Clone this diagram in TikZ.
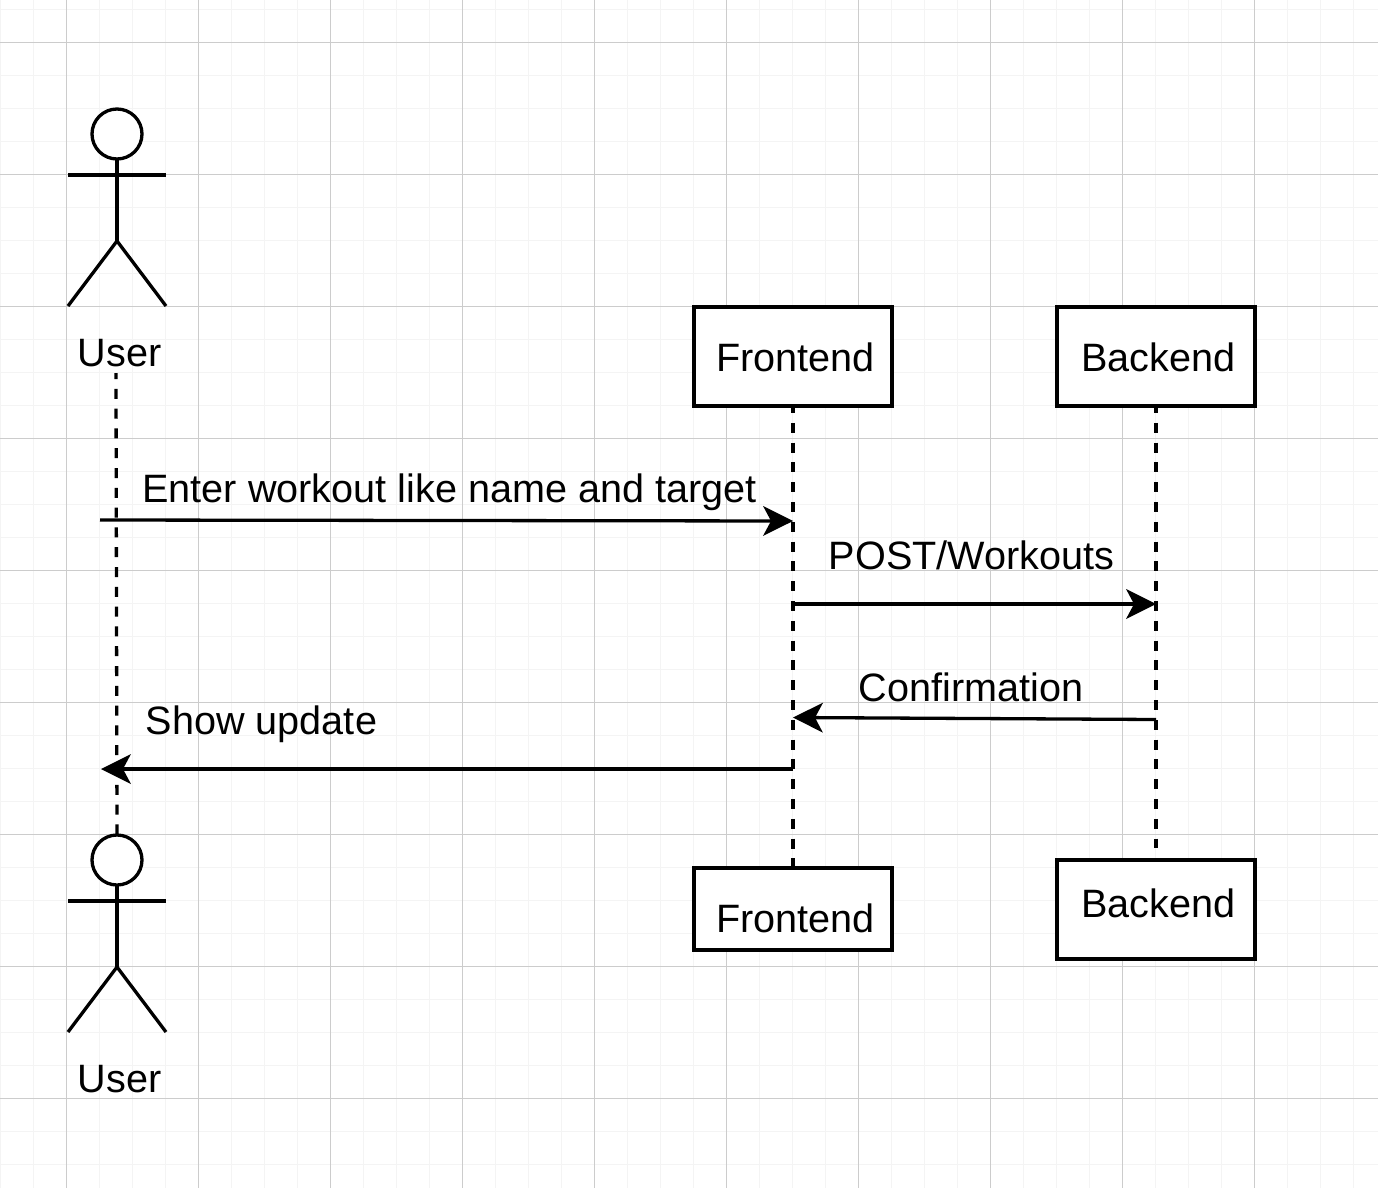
\documentclass[tikz,border=0pt]{standalone}
\usepackage{fontspec}
\setmainfont{Liberation Sans}
\usetikzlibrary{arrows.meta}
\definecolor{gridmajor}{gray}{0.80}
\definecolor{gridminor}{gray}{0.955}
\tikzset{
  ln/.style={draw=black,line width=3.3pt},
  lifeline/.style={ln,dash pattern=on 10pt off 9.8pt},
  msg/.style={ln,-{Stealth[length=30pt,width=30pt,inset=8pt,line width=0pt]}},
  box/.style={ln,fill=white,minimum width=198pt,inner sep=0pt,outer sep=0pt},
  txt/.style={inner sep=0pt,font=\fontsize{39.6}{47}\selectfont,text=black},
  head/.style={ln,fill=white,circle,minimum size=50pt,inner sep=0pt,outer sep=0pt}
}
\begin{document}
\begin{tikzpicture}[x=1pt,y=-1pt]
\useasboundingbox (0,0) rectangle (1378,1188);
\fill[white] (0,0) rectangle (1378,1188);
% minor grid
\foreach \i in {0,...,41} \draw[gridminor,line width=1.5pt] ({0.5+33*\i},0) -- ({0.5+33*\i},1188);
\foreach \j in {0,...,36} \draw[gridminor,line width=1.5pt] (0,{9.5+33*\j}) -- (1378,{9.5+33*\j});
% major grid
\foreach \i in {0,...,9} \draw[gridmajor,line width=1pt] ({66.5+132*\i},0) -- ({66.5+132*\i},1188);
\foreach \j in {0,...,8} \draw[gridmajor,line width=1pt] (0,{42.5+132*\j}) -- (1378,{42.5+132*\j});

\node[txt] (userTopLabel) at (119.5,353) {User};
\node[txt] (userBotLabel) at (119.5,1079) {User};
\node[head] (userTopHead) at (117,134) {};
\node[head] (userBotHead) at (117,860) {};
\node[box,minimum height=99pt] (feTop) at (793,356.5) {};
\node[box,minimum height=99pt] (beTop) at (1156,356.5) {};
\node[box,minimum height=82pt] (feBot) at (793,909) {};
\node[box,minimum height=99pt] (beBot) at (1156,909.5) {};
\node[txt] (feTopT) at (795.5,357.5) {Frontend};
\node[txt] (beTopT) at (1158.5,357.5) {Backend};
\node[txt] (feBotT) at (795.5,918.5) {Frontend};
\node[txt] (beBotT) at (1158.5,903) {Backend};

\coordinate (userLifeTop) at (116,373);
\coordinate (userLifeBot) at (117,835);
\coordinate (beLifeBot) at (1156,848);
\draw[lifeline,dash phase=4pt] (userLifeTop) -- (userLifeBot);
\draw[lifeline,dash phase=3pt] (feTop.south) -- (feBot.north);
\draw[lifeline,dash phase=3pt] (beTop.south) -- (beLifeBot);

% actors
\foreach \n/\y in {userTopHead/0,userBotHead/726}{
  \coordinate (neck) at (\n.south);
  \coordinate (hip) at (117,{241+\y});
  \coordinate (armL) at (68,{175+\y});
  \coordinate (armR) at (166,{175+\y});
  \coordinate (legL) at (68,{306+\y});
  \coordinate (legR) at (166,{306+\y});
  \draw[ln] (neck) -- (hip);
  \draw[ln] (armL) -- (armR);
  \draw[ln] (legL) -- (hip) -- (legR);
}

% messages
\coordinate (m1a) at (100,520);  \coordinate (m1b) at (793,521);
\coordinate (m2a) at (793,604);  \coordinate (m2b) at (1156,604);
\coordinate (m3a) at (1156,719.5); \coordinate (m3b) at (793,717.5);
\coordinate (m4a) at (793,769);  \coordinate (m4b) at (101,769);
\draw[msg] (m1a) -- (m1b);
\draw[msg] (m2a) -- (m2b);
\draw[msg] (m3a) -- (m3b);
\draw[msg] (m4a) -- (m4b);

\node[txt] (m1t) at (449.5,492.5) {Enter workout like name and target};
\node[txt] (m2t) at (971.5,555) {POST/Workouts};
\node[txt] (m3t) at (971,687) {Confirmation};
\node[txt] (m4t) at (261.5,724) {Show update};
\end{tikzpicture}
\end{document}
